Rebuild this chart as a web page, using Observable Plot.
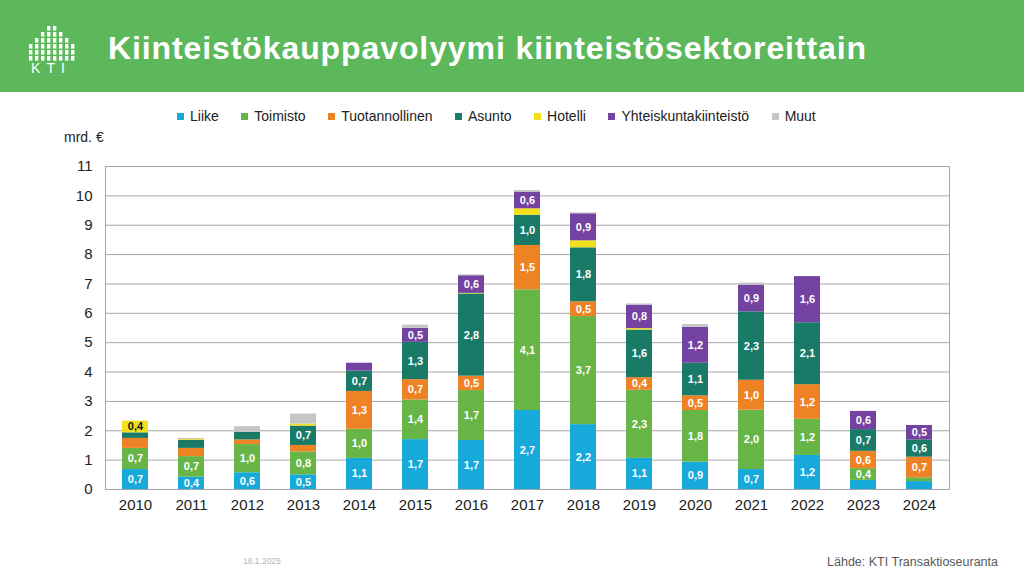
<!DOCTYPE html>
<html>
<head>
<meta charset="utf-8">
<script src="https://cdn.jsdelivr.net/npm/d3@7"></script>
<script src="https://cdn.jsdelivr.net/npm/@observablehq/plot@0.6"></script>
<style>
  html, body { margin: 0; padding: 0; background: #fff; }
  body { width: 1024px; height: 576px; position: relative; overflow: hidden; font-family: "Liberation Sans", Arial, sans-serif; }
  #header { position: absolute; left: 0; top: 0; width: 1024px; height: 92px; background: #5db85b; }
  #title { position: absolute; left: 108px; top: 32px; font-size: 32px; line-height: 32px; letter-spacing: 0.9px; font-weight: bold; color: #fff; white-space: nowrap; }
  #logo { position: absolute; left: 24px; top: 22px; }
  #legend { position: absolute; left: 177px; top: 108px; display: flex; align-items: center; font-size: 14px; color: #222; white-space: nowrap; }
  #legend .item { display: flex; align-items: center; margin-right: 22.5px; }
  #legend .sw { width: 7px; height: 7px; margin-right: 6px; }
  #ylabel { position: absolute; left: 64px; top: 129px; font-size: 14px; color: #222; }
  #chart { position: absolute; left: 0; top: 130px; }
  #date { position: absolute; left: 243px; top: 556px; font-size: 8.5px; color: #b5b5b5; }
  #source { position: absolute; right: 26px; top: 555px; font-size: 12.5px; color: #595959; }
</style>
</head>
<body>
<div id="header"></div>
<svg id="logo" width="54" height="54" viewBox="0 0 54 54"></svg>
<div id="title">Kiinteistökauppavolyymi kiinteistösektoreittain</div>
<div id="legend"></div>
<div id="ylabel">mrd. €</div>
<div id="chart"></div>
<div id="date">16.1.2025</div>
<div id="source">Lähde: KTI Transaktioseuranta</div>
<script>
const years = ["2010","2011","2012","2013","2014","2015","2016","2017","2018","2019","2020","2021","2022","2023","2024"];
const sectors = ["Liike","Toimisto","Tuotannollinen","Asunto","Hotelli","Yhteiskuntakiinteistö","Muut"];
const colors = ["#17a9d9","#68b547","#ee8326","#1a7a68","#f2e01c","#7442a0","#c6c6c6"];

const liike          = [0.68,0.42,0.57,0.50,1.06,1.70,1.67,2.69,2.21,1.06,0.93,0.68,1.16,0.31,0.27];
const toimisto       = [0.72,0.70,0.96,0.78,0.99,1.35,1.70,4.11,3.68,2.32,1.76,2.02,1.23,0.40,0.13];
const tuotannollinen = [0.34,0.28,0.16,0.22,1.29,0.69,0.49,1.51,0.50,0.43,0.50,1.02,1.18,0.59,0.70];
const asunto         = [0.19,0.27,0.26,0.66,0.69,1.27,2.80,1.03,1.84,1.62,1.11,2.33,2.11,0.74,0.59];
const hotelli        = [0.40,0.03,0.00,0.07,0.00,0.00,0.02,0.22,0.24,0.05,0.00,0.00,0.00,0.00,0.00];
const yhteiskunta    = [0.00,0.00,0.00,0.00,0.27,0.48,0.60,0.57,0.92,0.80,1.22,0.91,1.57,0.62,0.49];
const muut           = [0.00,0.04,0.19,0.34,0.00,0.11,0.03,0.05,0.03,0.04,0.10,0.07,0.00,0.00,0.00];
const yTicks = [0,1,2,3,4,5,6,7,8,9,10,11];

const series = [liike, toimisto, tuotannollinen, asunto, hotelli, yhteiskunta, muut];
const data = [];
sectors.forEach((s, i) => years.forEach((y, j) => data.push({year: y, sector: s, value: series[i][j]})));

// legend
const legend = document.getElementById("legend");
sectors.forEach((s, i) => {
  const it = document.createElement("div");
  it.className = "item";
  it.innerHTML = `<span class="sw" style="background:${colors[i]}"></span><span>${s}</span>`;
  legend.appendChild(it);
});

// logo (decorative)
const logo = d3.select("#logo");
const colX = [5,11,17,23,29,35,41,47];
const rowsPerCol = [3,4,5,6,6,5,4,3];
colX.forEach((x, ci) => {
  for (let r = 0; r < rowsPerCol[ci]; r++) {
    logo.append("rect").attr("x", x).attr("y", 34 - r * 6).attr("width", 3.4).attr("height", 4.6).attr("fill", "#fff");
  }
});
logo.append("text").attr("x", 27).attr("y", 51).attr("text-anchor", "middle")
  .attr("fill", "#fff").attr("font-size", 14).attr("letter-spacing", 6)
  .attr("font-family", "Liberation Sans, Arial, sans-serif").text("KTI");

const fmt = v => v.toFixed(1).replace(".", ",");

const chart = Plot.plot({
  width: 1024,
  height: 390,
  marginTop: 36,
  marginBottom: 31,
  marginLeft: 105,
  marginRight: 75,
  style: {fontFamily: "Liberation Sans, Arial, sans-serif", fontSize: "15px", color: "#222"},
  x: {type: "band", domain: years, paddingInner: 0.54, paddingOuter: 0.27, label: null},
  y: {domain: [0, 11], ticks: yTicks, label: null},
  color: {domain: sectors, range: colors},
  marks: [
    Plot.gridY(yTicks, {stroke: "#a6a6a6", strokeOpacity: 1}),
    Plot.frame({stroke: "#a6a6a6", strokeOpacity: 1}),
    Plot.axisY(yTicks, {tickSize: 0, tickPadding: 13, fontSize: 15, fill: "#222"}),
    Plot.axisX({tickSize: 0, tickPadding: 10, fontSize: 15, fill: "#222"}),
    Plot.barY(data, {x: "year", y: "value", fill: "sector", order: sectors}),
    Plot.text(data, Plot.stackY({
      x: "year", y: "value", z: "sector", order: sectors,
      text: d => d.value >= 0.38 ? fmt(d.value) : "",
      fill: d => d.sector === "Hotelli" ? "#111" : "#fff",
      fontSize: 11, fontWeight: "bold"
    }))
  ]
});
document.getElementById("chart").appendChild(chart);
</script>
</body>
</html>
